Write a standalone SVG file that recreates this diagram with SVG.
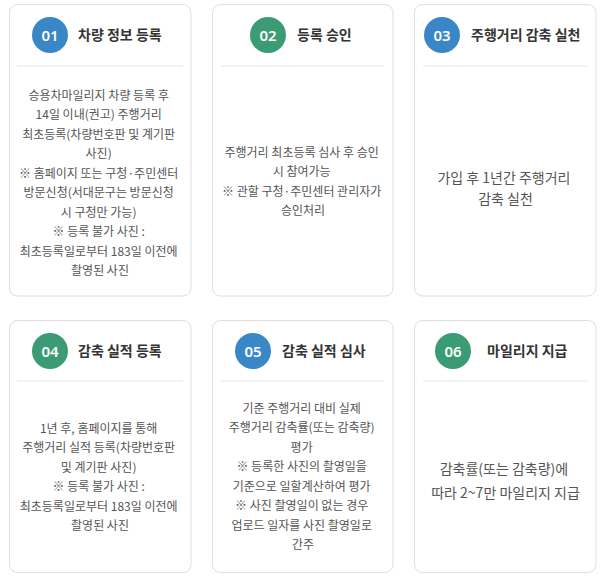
<svg xmlns="http://www.w3.org/2000/svg" width="600" height="579" viewBox="0 0 600 579">
<style>
.card{fill:#fff;stroke:#dedede;stroke-width:1}
.div{stroke:#e6e6e6;stroke-width:1}
.blue{fill:#3a87c8}
.green{fill:#3b9b74}
.num{font-family:"Noto Sans","Noto Sans CJK KR",sans-serif;font-size:15px;font-weight:600;fill:#fff;text-anchor:middle}
.title{font-family:"Noto Sans CJK KR","Noto Sans",sans-serif;font-size:14px;font-weight:700;fill:#333}
.body{font-family:"Noto Sans CJK KR","Noto Sans",sans-serif;font-size:12px;fill:#555;text-anchor:middle}
.big{font-family:"Noto Sans CJK KR","Noto Sans",sans-serif;font-size:14px;fill:#555;text-anchor:middle}
</style>
<rect width="600" height="579" fill="#fff"/>
<g id="step01">
<rect class="card" x="9.5" y="4.5" width="181.5" height="291.5" rx="8"/>
<circle class="blue" cx="50" cy="35" r="18"/>
<text class="num" x="50" y="40.5">01</text>
<text class="title" x="78" y="40">차량 정보 등록</text>
<line class="div" x1="17" y1="66" x2="183" y2="66"/>
<text class="body">
<tspan x="100" y="99.5">승용차마일리지 차량 등록 후</tspan>
<tspan x="100" y="119">14일 이내(권고) 주행거리</tspan>
<tspan x="100" y="138.5">최초등록(차량번호판 및 계기판</tspan>
<tspan x="100" y="158">사진)</tspan>
<tspan x="100" y="177.5">※ 홈페이지 또는 구청·주민센터</tspan>
<tspan x="100" y="197">방문신청(서대문구는 방문신청</tspan>
<tspan x="100" y="216.5">시 구청만 가능)</tspan>
<tspan x="100" y="236">※ 등록 불가 사진 :</tspan>
<tspan x="100" y="255.5">최초등록일로부터 183일 이전에</tspan>
<tspan x="100" y="275">촬영된 사진</tspan>
</text>
</g>
<g id="step02">
<rect class="card" x="212.5" y="4.5" width="180.5" height="291.5" rx="8"/>
<circle class="green" cx="268" cy="35" r="18"/>
<text class="num" x="268" y="40.5">02</text>
<text class="title" x="297" y="40">등록 승인</text>
<line class="div" x1="221" y1="66" x2="384" y2="66"/>
<text class="body">
<tspan x="303" y="156.5">주행거리 최초등록 심사 후 승인</tspan>
<tspan x="303" y="176">시 참여가능</tspan>
<tspan x="303" y="195.5">※ 관할 구청·주민센터 관리자가</tspan>
<tspan x="303" y="215">승인처리</tspan>
</text>
</g>
<g id="step03">
<rect class="card" x="414.5" y="4.5" width="181.5" height="291.5" rx="8"/>
<circle class="blue" cx="442" cy="35" r="18"/>
<text class="num" x="442" y="40.5">03</text>
<text class="title" x="471" y="40">주행거리 감축 실천</text>
<line class="div" x1="423" y1="66" x2="588" y2="66"/>
<text class="big">
<tspan x="505.5" y="183">가입 후 1년간 주행거리</tspan>
<tspan x="505.5" y="204">감축 실천</tspan>
</text>
</g>
<g id="step04">
<rect class="card" x="9.5" y="320.5" width="181.5" height="252" rx="8"/>
<circle class="green" cx="50" cy="351" r="18"/>
<text class="num" x="50" y="356.5">04</text>
<text class="title" x="78" y="356">감축 실적 등록</text>
<line class="div" x1="17" y1="381" x2="183" y2="381"/>
<text class="body">
<tspan x="100" y="432.5">1년 후, 홈페이지를 통해</tspan>
<tspan x="100" y="452">주행거리 실적 등록(차량번호판</tspan>
<tspan x="100" y="471.5">및 계기판 사진)</tspan>
<tspan x="100" y="491">※ 등록 불가 사진 :</tspan>
<tspan x="100" y="510.5">최초등록일로부터 183일 이전에</tspan>
<tspan x="100" y="530">촬영된 사진</tspan>
</text>
</g>
<g id="step05">
<rect class="card" x="212.5" y="320.5" width="180.5" height="252" rx="8"/>
<circle class="blue" cx="253" cy="351" r="18"/>
<text class="num" x="253" y="356.5">05</text>
<text class="title" x="282" y="356">감축 실적 심사</text>
<line class="div" x1="221" y1="381" x2="384" y2="381"/>
<text class="body">
<tspan x="303" y="412.5">기준 주행거리 대비 실제</tspan>
<tspan x="303" y="432">주행거리 감축률(또는 감축량)</tspan>
<tspan x="303" y="451.5">평가</tspan>
<tspan x="303" y="471">※ 등록한 사진의 촬영일을</tspan>
<tspan x="303" y="490.5">기준으로 일할계산하여 평가</tspan>
<tspan x="303" y="510">※ 사진 촬영일이 없는 경우</tspan>
<tspan x="303" y="529.5">업로드 일자를 사진 촬영일로</tspan>
<tspan x="303" y="549">간주</tspan>
</text>
</g>
<g id="step06">
<rect class="card" x="414.5" y="320.5" width="181.5" height="252" rx="8"/>
<circle class="green" cx="453" cy="351" r="18"/>
<text class="num" x="453" y="356.5">06</text>
<text class="title" x="487" y="356">마일리지 지급</text>
<line class="div" x1="423" y1="381" x2="588" y2="381"/>
<text class="big">
<tspan x="505.5" y="474">감축률(또는 감축량)에</tspan>
<tspan x="505.5" y="498">따라 2~7만 마일리지 지급</tspan>
</text>
</g>
<g id="connectors"/>
</svg>
